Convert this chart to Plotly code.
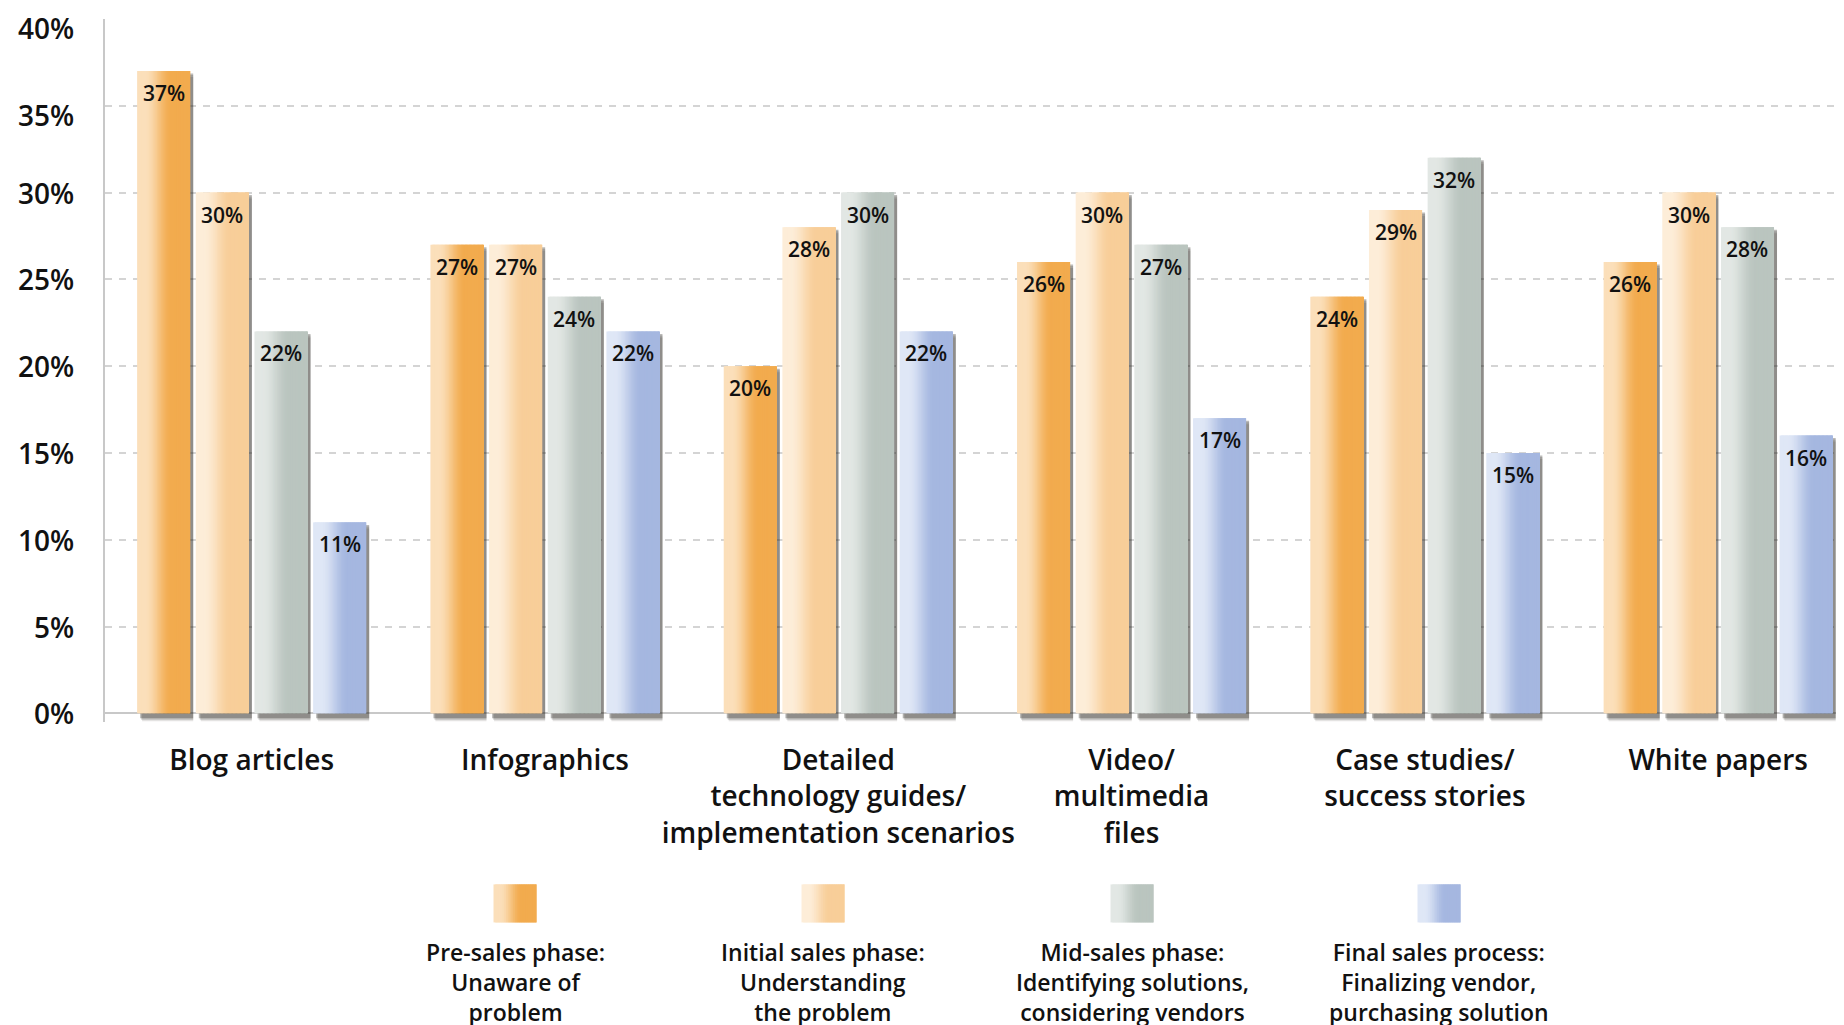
import plotly.graph_objects as go
import numpy as np

# ---------------- data ----------------
categories = [
    "Blog articles",
    "Infographics",
    "Detailed<br>technology guides/<br>implementation scenarios",
    "Video/<br>multimedia<br>files",
    "Case studies/<br>success stories",
    "White papers",
]
series_names = [
    "Pre-sales phase:<br>Unaware of<br>problem",
    "Initial sales phase:<br>Understanding<br>the problem",
    "Mid-sales phase:<br>Identifying solutions,<br>considering vendors",
    "Final sales process:<br>Finalizing vendor,<br>purchasing solution",
]
pre_sales = [37, 27, 20, 26, 24, 26]
initial_sales = [30, 27, 28, 30, 29, 30]
mid_sales = [22, 24, 30, 27, 32, 28]
final_sales = [11, 22, 22, 17, 15, 16]
series_values = [pre_sales, initial_sales, mid_sales, final_sales]
y_tick_values = [0, 5, 10, 15, 20, 25, 30, 35, 40]
y_tick_labels = ["0%", "5%", "10%", "15%", "20%", "25%", "30%", "35%", "40%"]

# ---------------- style ----------------
grad_colors = [
    ((251, 223, 186), (242, 171, 78)),
    ((253, 237, 216), (248, 206, 153)),
    ((226, 231, 228), (186, 197, 191)),
    ((223, 231, 246), (165, 183, 224)),
]
FONT = "Open Sans"
FW = 600
PAGE_OFF = 8                      # default body margin of the page
W, H = 1844 - PAGE_OFF, 1025 - PAGE_OFF
PLOT_LEFT_PAGE, PLOT_TOP_PAGE, ZERO_PAGE = 105, 19, 713
ML, MR, MT = PLOT_LEFT_PAGE - PAGE_OFF, 0, PLOT_TOP_PAGE - PAGE_OFF
Y_MIN = -0.5
PX_PER_UNIT_Y = (ZERO_PAGE - PLOT_TOP_PAGE) / 40.0
PLOT_BOTTOM_PAGE = ZERO_PAGE - Y_MIN * PX_PER_UNIT_Y
MB = 1025 - PLOT_BOTTOM_PAGE
PX_PER_X = 293.3
plot_w = W - ML - MR
plot_h = PLOT_BOTTOM_PAGE - PLOT_TOP_PAGE
x_max = plot_w / PX_PER_X - 0.5

slot = 0.2
bar_w = 0.181
N_SLICES = 40


def mix(c1, c2, t):
    return "rgb(%d,%d,%d)" % tuple(round(a + (b - a) * t) for a, b in zip(c1, c2))


def profile(t):
    u = min(max((t - 0.15) / 0.5, 0.0), 1.0)
    return u * u * (3 - 2 * u)


def xp(px):
    return (px - PLOT_LEFT_PAGE) / plot_w


def yp(py):
    return (PLOT_BOTTOM_PAGE - py) / plot_h


x_idx = np.arange(len(categories))
fig = go.Figure()

shadow_layers = [  # (dx px, dy px, shrink-top px, alpha)
    (5.0, 8.0, 6.0, 0.12),
    (4.0, 6.5, 4.0, 0.18),
    (3.0, 5.0, 2.5, 0.30),
]

for j, vals in enumerate(series_values):
    center_off = (j - 1.5) * slot
    left_off = center_off - bar_w / 2
    c1, c2 = grad_colors[j]
    for dx, dy, st, a in shadow_layers:
        sh_dx = dx / PX_PER_X
        sh_dy = dy / PX_PER_UNIT_Y
        sh_top = st / PX_PER_UNIT_Y
        fig.add_trace(go.Bar(
            x=x_idx, y=[v + sh_dy - sh_top for v in vals], base=-sh_dy,
            offset=left_off + sh_dx, width=bar_w - (dx - 3.0) / PX_PER_X,
            marker=dict(color="rgba(30,25,20,%.2f)" % a, line=dict(width=0)),
            hoverinfo="skip", showlegend=False,
        ))
    step = bar_w / N_SLICES
    for k in range(N_SLICES):
        t = (k + 0.5) / N_SLICES
        w = step * 2.5
        if k >= N_SLICES - 2:
            w = bar_w - k * step
        fig.add_trace(go.Bar(
            x=x_idx, y=vals, offset=left_off + k * step, width=w,
            marker=dict(color=mix(c1, c2, profile(t)), line=dict(width=0)),
            hoverinfo="skip", showlegend=False,
        ))
    for i, v in enumerate(vals):
        fig.add_annotation(
            x=i + center_off, y=v, xref="x", yref="y",
            text="%d%%" % v, showarrow=False, yanchor="middle", yshift=-22,
            font=dict(family=FONT, size=21, color="#111", weight=FW),
        )

# ---------------- y tick labels (as in the original, top two sit a bit low) ----
y_label_shift = {35: -9, 40: -9}
for val, lab in zip(y_tick_values, y_tick_labels):
    fig.add_annotation(
        x=xp(76), y=val, xref="paper", yref="y", text=lab, showarrow=False,
        xanchor="right", yanchor="middle", yshift=y_label_shift.get(val, 0),
        font=dict(family=FONT, size=28, color="#111", weight=FW),
    )

# ---------------- legend (custom, swatch above text) ----------------
legend_centers_px = [515, 823, 1132, 1439]
sw_w, sw_top, sw_bot = 43, 884, 922

for j, cx in enumerate(legend_centers_px):
    c1, c2 = grad_colors[j]
    n = 24
    for k in range(n):
        t = (k + 0.5) / n
        x0 = cx - sw_w / 2 + k * sw_w / n
        x1 = min(x0 + sw_w / n * 2.0, cx + sw_w / 2)
        fig.add_shape(type="rect", xref="paper", yref="paper",
                      x0=xp(x0), x1=xp(x1), y0=yp(sw_bot), y1=yp(sw_top),
                      fillcolor=mix(c1, c2, profile(t)), line=dict(width=0), layer="above")
    fig.add_annotation(
        x=xp(cx), y=yp(934), xref="paper", yref="paper",
        text=series_names[j], showarrow=False, xanchor="center", yanchor="top",
        align="center",
        font=dict(family=FONT, size=23, color="#111", weight=FW),
    )

fig.update_layout(
    width=W, height=H,
    margin=dict(l=ML, r=MR, t=MT, b=MB, pad=0),
    paper_bgcolor="white", plot_bgcolor="white",
    barmode="overlay", showlegend=False,
    font=dict(family=FONT, color="#111"),
)
fig.update_xaxes(
    range=[-0.5, x_max], tickvals=list(x_idx), ticktext=categories,
    showgrid=False, zeroline=False, showline=False, ticks="",
    tickfont=dict(family=FONT, size=28, color="#111", weight=FW),
    ticklabelstandoff=19, automargin=False,
)
fig.update_yaxes(
    range=[Y_MIN, 40], tickvals=y_tick_values, showticklabels=False,
    showgrid=True, gridcolor="#d4d4d4", griddash="7px,7px", gridwidth=2,
    zeroline=True, zerolinecolor="#c8c8c8", zerolinewidth=2,
    showline=True, linecolor="#c8c8c8", linewidth=2,
    ticks="", automargin=False,
)

fig.write_html("out.html")
